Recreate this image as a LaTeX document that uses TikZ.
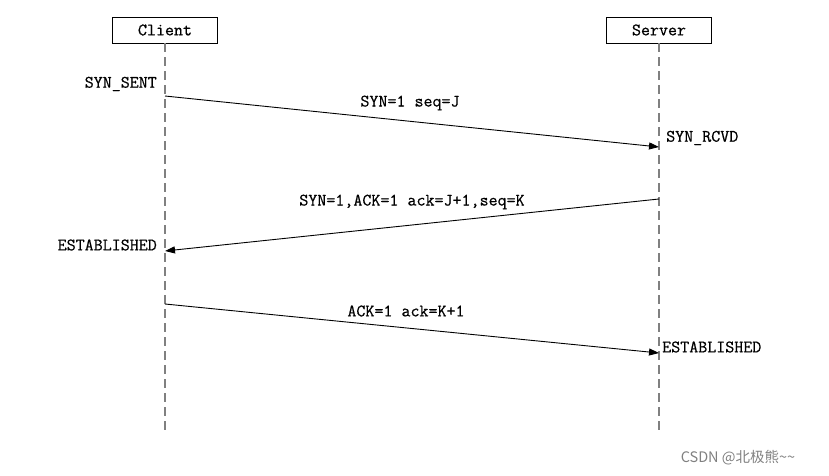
\documentclass[tikz,border=0pt]{standalone}
\usepackage{fontspec}
\usetikzlibrary{arrows.meta}
\newfontfamily\seqfont[FakeBold=0.6]{Latin Modern Mono}
\newfontfamily\cjkfont{Noto Sans CJK SC}

\begin{document}
\begin{tikzpicture}[x=1pt,y=-1pt,
  party/.style={draw,line width=0.9pt,minimum width=105pt,minimum height=26pt,font=\seqfont\fontsize{17.5}{17.5}\selectfont},
  life/.style={gray,line width=1.1pt,dash pattern=on 9pt off 5pt},
  msg/.style={line width=0.9pt,-{Triangle[length=10pt,width=7pt]}},
  lbl/.style={font=\seqfont\fontsize{17.5}{17.5}\selectfont,inner sep=1pt}]
  \useasboundingbox (0,0) rectangle (829,476);
  % the two parties and their lifelines
  \node[party] (cl) at (165,30) {Client};
  \node[party] (sv) at (659,30) {Server};
  \coordinate (clend) at (165,435); \coordinate (svend) at (659,435);
  \draw[life] (cl.south)--(clend); \draw[life] (sv.south)--(svend);
  % first handshake
  \coordinate (c1) at (165,96); \coordinate (s1) at (659,147);
  \draw[msg] (c1)--(s1);
  \node[lbl] (m1) at (410,103) {SYN=1 seq=J};
  \node[lbl,anchor=east] (st1) at (158,84) {SYN\_SENT};
  \node[lbl,anchor=west] (st2) at (665,138) {SYN\_RCVD};
  % second handshake
  \coordinate (s2) at (659,199); \coordinate (c2) at (165,251);
  \draw[msg] (s2)--(c2);
  \node[lbl] (m2) at (412,202) {SYN=1,ACK=1 ack=J+1,seq=K};
  \node[lbl,anchor=east] (st3) at (158,245) {ESTABLISHED};
  % third handshake
  \coordinate (c3) at (165,304); \coordinate (s3) at (659,353);
  \draw[msg] (c3)--(s3);
  \node[lbl] (m3) at (406,311) {ACK=1 ack=K+1};
  \node[lbl,anchor=west] (st4) at (661,347) {ESTABLISHED};
  % watermark
  \node[gray,font=\cjkfont\fontsize{14.5}{14.5}\selectfont] (wm) at (738,458) {CSDN @北极熊\char`\~\char`\~};
\end{tikzpicture}
\end{document}
